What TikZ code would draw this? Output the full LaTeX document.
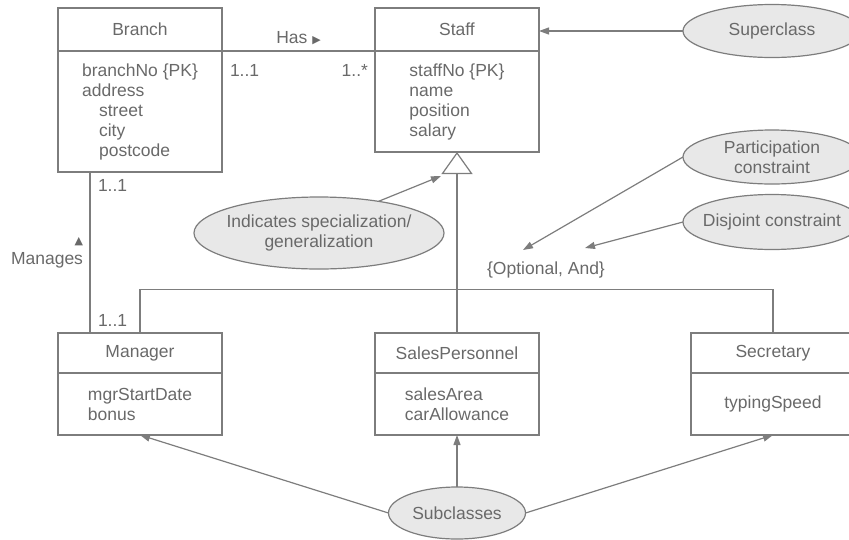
\documentclass[tikz,border=0pt]{standalone}
\usepackage{fontspec}
\setmainfont{Liberation Sans}
\newfontfamily\symfont{DejaVu Sans}
\usetikzlibrary{arrows.meta, positioning, calc, shapes.geometric}
\definecolor{LineGrey}{RGB}{125, 125, 125}
\definecolor{TextGrey}{RGB}{105, 105, 105}
\definecolor{NoteGrey}{RGB}{232, 232, 232}

\begin{document}
\begin{tikzpicture}[
        x = 1pt, y = -1pt,
        font = \fontsize{17.5}{20}\selectfont,
        every node/.style = {text = TextGrey, outer sep = 0pt},
        head/.style = {draw = LineGrey, line width = 1.2pt, minimum width = 164pt, minimum height = 43pt, inner sep = 0pt},
        attr/.style = {draw = LineGrey, line width = 1.2pt, minimum width = 164pt, align = left, inner sep = 0pt},
        note/.style = {ellipse, draw = LineGrey, fill = NoteGrey, line width = 1.2pt, align = center, inner xsep = -10pt, inner ysep = 0pt},
        lab/.style = {inner sep = 1pt},
        link/.style = {LineGrey, line width = 1.2pt},
        arr/.style = {-{Triangle[length = 10pt, width = 7pt]}, LineGrey, line width = 1.2pt}
    ]
        \useasboundingbox (0, 0) rectangle (849, 539);
        \clip (0, 0) rectangle (849, 539);

        \node[head] (branch) at (140, 29.5) {Branch};
        \node[attr, below = 0pt of branch, minimum height = 121pt] (branchAttr) {
            branchNo \{PK\}
            \\
            address
            \\
            \hspace*{17pt}street
            \\
            \hspace*{17pt}city
            \\
            \hspace*{17pt}postcode
        };

        \node[head] (staff) at (457, 29.5) {Staff};
        \node[attr, below = 0pt of staff, minimum height = 101pt] (staffAttr) {
            staffNo \{PK\}
            \\
            name
            \\
            position
            \\
            salary
        };

        \node[head, minimum height = 40pt] (mgr) at (140, 353) {Manager};
        \node[attr, below = 0pt of mgr, minimum height = 62pt] (mgrAttr) {
            mgrStartDate
            \\
            bonus
        };

        \node[head, minimum height = 40pt] (sales) at (457, 353) {SalesPersonnel};
        \node[attr, below = 0pt of sales, minimum height = 62pt] (salesAttr) {
            salesArea
            \\
            carAllowance
        };

        \node[head, minimum height = 40pt] (sec) at (773, 353) {Secretary};
        \node[attr, below = 0pt of sec, minimum height = 62pt] (secAttr) {typingSpeed};

        \node[note, minimum width = 178pt, minimum height = 53pt] (super) at (772, 31) {Superclass};
        \node[note, minimum width = 178pt, minimum height = 54pt] (part) at (772, 157) {Participation\\constraint};
        \node[note, minimum width = 178pt, minimum height = 55pt] (disj) at (772, 222) {Disjoint constraint};
        \node[note, minimum width = 250pt, minimum height = 72pt] (spec) at (319, 233) {Indicates specialization/\\generalization};
        \node[note, minimum width = 137pt, minimum height = 52pt] (sub) at (457, 513) {Subclasses};

        \node[lab] (opt) at (546, 270) {\{Optional, And\}};
        \coordinate (optA) at (523, 250);
        \coordinate (optB) at (585, 248);
        \coordinate (genTip) at (441, 176);
        \coordinate (bus) at (457, 289.5);

        \draw[link] (branch.south east) -- node[lab, above = 5pt] (has) {Has {\symfont\fontsize{11}{11}\selectfont ▶}} (staff.south west);
        \node[lab, anchor = north west] (hasA) at ($(branch.south east)+(7, 12)$) {1..1};
        \node[lab, anchor = north east] (hasB) at ($(staff.south west)+(-6, 12)$) {1..*};

        \draw[link] ($(branchAttr.south west)+(32, 0)$) -- ($(mgr.north west)+(32, 0)$);
        \node[lab, anchor = west] (manA) at (97, 185) {1..1};
        \node[lab, anchor = west] (manB) at (97, 320) {1..1};
        \node[lab, anchor = east, align = right] (manages) at (84, 253) {{\symfont\fontsize{11}{11}\selectfont ▲}\\Manages};

        \draw[link] (mgr.north) |- (bus) -| (sec.north);
        \draw[link, -{Triangle[open, length = 22pt, width = 31pt, fill = white]}] (sales.north) -- (staffAttr.south);

        \draw[arr] (super.west) -- (super.west -| staff.east);
        \draw[arr] (spec.28) -- (genTip);
        \draw[arr] (part.west) -- (optA);
        \draw[arr] (disj.west) -- (optB);
        \draw[arr] (sub.west) -- (mgrAttr.south);
        \draw[arr] (sub.north) -- (salesAttr.south);
        \draw[arr] (sub.east) -- (secAttr.south);
    \end{tikzpicture}
\end{document}
